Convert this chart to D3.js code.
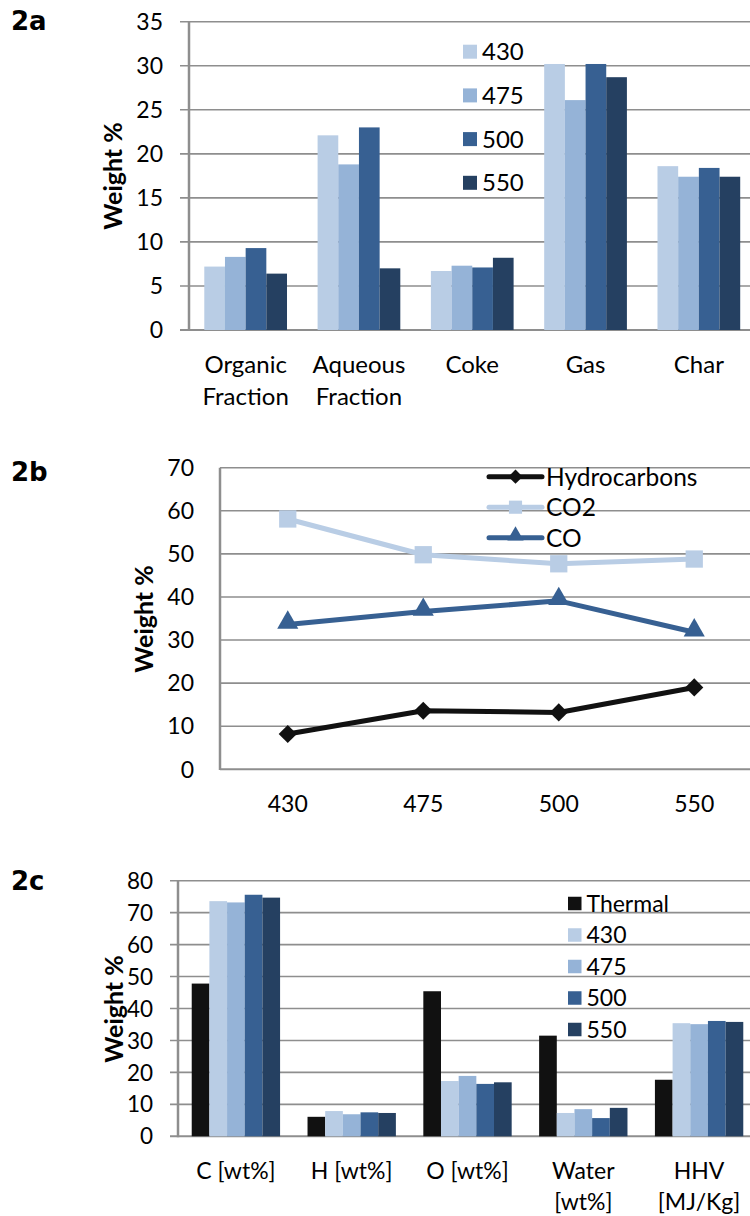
<!DOCTYPE html>
<html><head><meta charset="utf-8">
<script src="https://cdn.jsdelivr.net/npm/d3@7"></script>
<style>
html,body{margin:0;padding:0;background:#fff;}
svg{display:block;}
text{font-family:Lato,"Open Sans",sans-serif;fill:#000;}
.panel{font-family:"DejaVu Sans",Verdana,sans-serif;font-weight:bold;}
</style></head>
<body>
<script>
// ---------- Data ----------
const catsA = [["Organic","Fraction"],["Aqueous","Fraction"],["Coke"],["Gas"],["Char"]];
const seriesA = ["430","475","500","550"];
const valuesA = [
  [7.2, 8.3, 9.3, 6.4],
  [22.1, 18.8, 23.0, 7.0],
  [6.7, 7.3, 7.1, 8.2],
  [30.2, 26.1, 30.2, 28.7],
  [18.6, 17.4, 18.4, 17.4]
];
const ticksA = [0,5,10,15,20,25,30,35];

const catsB = ["430","475","500","550"];
const seriesB = ["Hydrocarbons","CO2","CO"];
const hydrocarbons = [8.2, 13.6, 13.2, 19.0];
const co2 = [58.1, 49.8, 47.7, 48.8];
const co = [33.6, 36.6, 39.1, 31.8];
const ticksB = [0,10,20,30,40,50,60,70];

const catsC = [["C [wt%]"],["H [wt%]"],["O [wt%]"],["Water","[wt%]"],["HHV","[MJ/Kg]"]];
const seriesC = ["Thermal","430","475","500","550"];
const valuesC = [
  [47.8, 73.6, 73.2, 75.6, 74.7],
  [6.1, 7.9, 6.9, 7.5, 7.3],
  [45.4, 17.3, 18.9, 16.4, 16.9],
  [31.5, 7.3, 8.5, 5.7, 8.9],
  [17.7, 35.4, 35.1, 36.1, 35.8]
];
const ticksC = [0,10,20,30,40,50,60,70,80];

// ---------- Styles ----------
const colorMap = {"Thermal":"#111111","430":"#b9cde5","475":"#95b3d7","500":"#376092","550":"#254061"};
const lineColors = {"Hydrocarbons":"#111111","CO2":"#b9cde5","CO":"#376092"};
const gridColor = "#8e8e8e";

const svg = d3.select("body").append("svg").attr("width",750).attr("height",1216);

function barChart(cfg){
  const g = svg.append("g");
  const y = d3.scaleLinear().domain([0, d3.max(cfg.ticks)]).range([cfg.y0, cfg.yTop]);
  const x0 = d3.scaleBand().domain(d3.range(cfg.cats.length)).range([cfg.xL, cfg.xR])
      .paddingInner(cfg.pad).paddingOuter(cfg.pad/2);
  const x1 = d3.scaleBand().domain(cfg.series).range([0, x0.bandwidth()]);
  g.append("g").selectAll("line").data(cfg.ticks).join("line")
    .attr("x1", cfg.xL - cfg.tick).attr("x2", 760)
    .attr("y1", d=>y(d)).attr("y2", d=>y(d))
    .attr("stroke", gridColor).attr("stroke-width", d=> d===0?2:1.6);
  g.append("g").selectAll("text").data(cfg.ticks).join("text")
    .attr("x", cfg.labelX).attr("y", d=>y(d)).attr("dy","0.36em")
    .attr("text-anchor","end").style("font-size", cfg.fs+"px").text(d=>d);
  const grp = g.append("g").selectAll("g").data(cfg.values).join("g")
    .attr("transform",(d,i)=>`translate(${x0(i)},0)`);
  grp.selectAll("rect").data(d=>d.map((v,j)=>({s:cfg.series[j],v}))).join("rect")
    .attr("x", d=>x1(d.s)).attr("width", x1.bandwidth())
    .attr("y", d=>y(d.v)).attr("height", d=>cfg.y0 - y(d.v))
    .attr("fill", d=>colorMap[d.s]);
  g.append("line").attr("x1",cfg.xL).attr("x2",cfg.xL).attr("y1",cfg.yTop).attr("y2",cfg.y0+1)
    .attr("stroke",gridColor).attr("stroke-width",2.5);
  const cl = g.append("g").selectAll("text").data(cfg.cats).join("text")
    .attr("x",(d,i)=>x0(i)+x0.bandwidth()/2).attr("y",cfg.catY)
    .attr("text-anchor","middle").style("font-size", cfg.cfs+"px");
  cl.selectAll("tspan").data(d=>d).join("tspan")
    .attr("x",function(){return this.parentNode.getAttribute("x");})
    .attr("dy",(d,i)=>i===0?0:cfg.lineH).text(d=>d);
  const lg = g.append("g").selectAll("g").data(cfg.series).join("g")
    .attr("transform",(d,i)=>`translate(${cfg.legX},${cfg.legY + i*cfg.legStep})`);
  lg.append("rect").attr("x",0).attr("y",-cfg.sq/2).attr("width",cfg.sq).attr("height",cfg.sq)
    .attr("fill",d=>colorMap[d]);
  lg.append("text").attr("x",cfg.sq+5).attr("y",0).attr("dy","0.36em")
    .style("font-size",cfg.lfs+"px").text(d=>d);
  svg.append("text").attr("transform",`translate(${cfg.titleX},${cfg.titleY}) rotate(-90)`)
    .attr("text-anchor","middle").style("font-size",cfg.tfs+"px").style("font-weight","bold")
    .text("Weight %");
}

// Panel 2a
barChart({cats:catsA, series:seriesA, values:valuesA, ticks:ticksA,
  y0:330, yTop:21.7, xL:189, xR:755.5, pad:0.27, tick:9, labelX:163, fs:23, cfs:24, lfs:24,
  catY:373, lineH:32, legX:463, legY:51.7, legStep:43.7, sq:14,
  titleX:122, titleY:176, tfs:25});

// Panel 2c
barChart({cats:catsC, series:seriesC, values:valuesC, ticks:ticksC,
  y0:1136.3, yTop:880.7, xL:178, xR:757, pad:0.237, tick:8, labelX:153, fs:22.5, cfs:23, lfs:23,
  catY:1179, lineH:31, legX:568, legY:903.5, legStep:31.5, sq:13.5,
  titleX:123, titleY:1009, tfs:25});

// Panel 2b (line chart)
(function(){
  const g = svg.append("g");
  const y = d3.scaleLinear().domain([0,70]).range([769.3,467.7]);
  const x = d3.scalePoint().domain(catsB).range([220,762]).padding(0.5);
  g.append("g").selectAll("line").data(ticksB).join("line")
    .attr("x1",220).attr("x2",760).attr("y1",d=>y(d)).attr("y2",d=>y(d))
    .attr("stroke",gridColor).attr("stroke-width",d=>d===0?2:1.6);
  g.append("line").attr("x1",220).attr("x2",220).attr("y1",467.7).attr("y2",770)
    .attr("stroke",gridColor).attr("stroke-width",2.5);
  g.append("g").selectAll("text").data(ticksB).join("text")
    .attr("x",194).attr("y",d=>y(d)).attr("dy","0.36em").attr("text-anchor","end")
    .style("font-size","23px").text(d=>d);
  g.append("g").selectAll("text").data(catsB).join("text")
    .attr("x",d=>x(d)).attr("y",811.5).attr("text-anchor","middle")
    .style("font-size","23px").text(d=>d);
  const data = {"Hydrocarbons":hydrocarbons,"CO2":co2,"CO":co};
  const shapes = {"Hydrocarbons":d3.symbolDiamond2,"CO2":d3.symbolSquare2,"CO":d3.symbolTriangle2};
  const sizes = {"Hydrocarbons":210,"CO2":380,"CO":320};
  const line = d3.line().x((d,i)=>x(catsB[i])).y(d=>y(d));
  seriesB.forEach(s=>{
    g.append("path").datum(data[s]).attr("d",line).attr("fill","none")
      .attr("stroke",lineColors[s]).attr("stroke-width",5).attr("stroke-linejoin","round");
  });
  seriesB.forEach(s=>{
    g.append("g").selectAll("path").data(data[s]).join("path")
      .attr("transform",(d,i)=>`translate(${x(catsB[i])},${y(d) + (s==="CO"?-2:0)})`)
      .attr("d",d3.symbol().type(shapes[s]).size(sizes[s])).attr("fill",lineColors[s]);
  });
  const lg = g.append("g").selectAll("g").data(seriesB).join("g")
    .attr("transform",(d,i)=>`translate(0,${476.7 + i*30.5})`);
  lg.append("line").attr("x1",489).attr("x2",542).attr("y1",0).attr("y2",0)
    .attr("stroke",d=>lineColors[d]).attr("stroke-width",5).attr("stroke-linecap","round");
  lg.append("path").attr("transform",d=>`translate(515.5,${d==="CO"?-2:0})`)
    .attr("d",d=>d3.symbol().type(shapes[d]).size(d==="CO2"?220:(d==="CO"?190:130))())
    .attr("fill",d=>lineColors[d]);
  lg.append("text").attr("x",546).attr("y",0).attr("dy","0.36em").style("font-size","24.5px").text(d=>d);
  svg.append("text").attr("transform","translate(153,619) rotate(-90)")
    .attr("text-anchor","middle").style("font-size","25px").style("font-weight","bold").text("Weight %");
})();

// Panel labels
svg.append("text").attr("class","panel").attr("x",11).attr("y",29.5).style("font-size","26px").text("2a");
svg.append("text").attr("class","panel").attr("x",11).attr("y",481).style("font-size","26px").text("2b");
svg.append("text").attr("class","panel").attr("x",11).attr("y",890).style("font-size","26px").text("2c");
</script>
</body></html>
